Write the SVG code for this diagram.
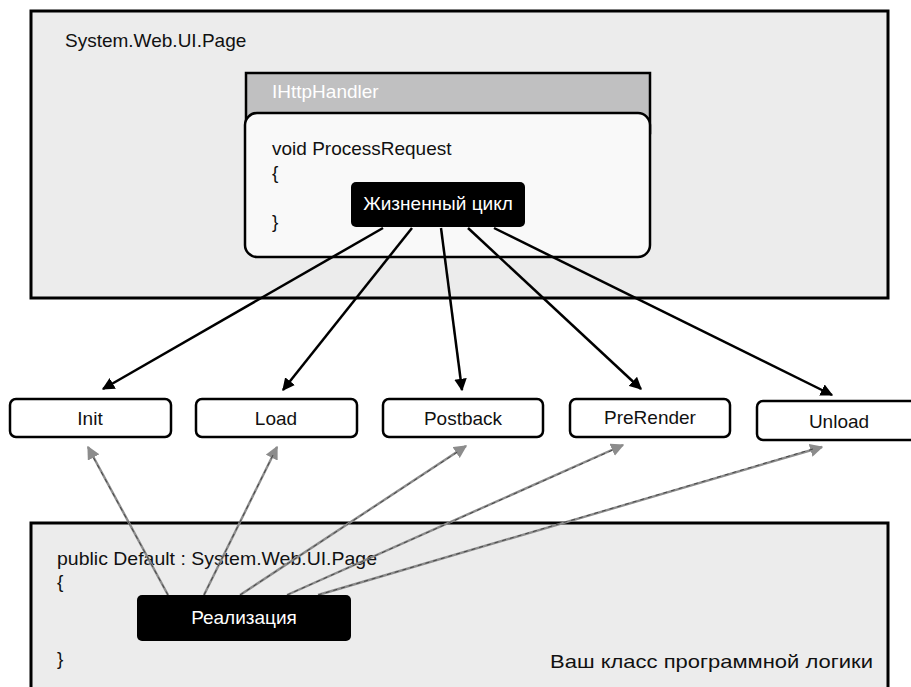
<svg xmlns="http://www.w3.org/2000/svg" width="911" height="687" viewBox="0 0 911 687">
<defs>
<style>
text{font-family:"Liberation Sans",Arial,sans-serif;font-size:19px;fill:#111}
.w{fill:#fff}
.c{text-anchor:middle}
.panel{fill:#ececec;stroke:#000;stroke-width:3}
.node{fill:#fff;stroke:#000;stroke-width:2.5}
.blk{fill:#000}
.ar{stroke:#000;stroke-width:2.5;fill:none}
.gr{stroke:#8c8c8c;stroke-width:2.4;fill:none}
.grd{stroke:#333;stroke-width:0.8;stroke-dasharray:4 4;fill:none}
</style>
<marker id="ah" viewBox="0 0 10 10" refX="9" refY="5" markerWidth="5" markerHeight="5" orient="auto" markerUnits="strokeWidth"><path d="M0,0L10,5L0,10z" fill="#000"/></marker>
<marker id="gh" viewBox="0 0 10 10" refX="9" refY="5" markerWidth="5.5" markerHeight="5.5" orient="auto" markerUnits="strokeWidth"><path d="M0,0L10,5L0,10z" fill="#8c8c8c"/></marker>
</defs>
<rect width="911" height="687" fill="#fff"/>
<g id="page">
<rect class="panel" x="31" y="11" width="857" height="287"/>
<text x="65" y="47">System.Web.UI.Page</text>
</g>
<g id="handler">
<rect x="246" y="73" width="404" height="60" fill="#c0c0c1" stroke="#000" stroke-width="2.5"/>
<text class="w" x="272" y="98">IHttpHandler</text>
<rect x="245" y="113" width="405" height="144" rx="12" fill="#f9f9f9" stroke="#000" stroke-width="2.5"/>
<text x="272" y="155">void ProcessRequest</text>
<text x="272" y="179">{</text>
<text x="272" y="228">}</text>
</g>
<g id="lifecycle">
<rect class="blk" x="351" y="182" width="174" height="45" rx="5"/>
<text class="w c" x="438" y="210">Жизненный цикл</text>
</g>
<g id="init"><rect class="node" x="10" y="399" width="161" height="38" rx="6"/><text class="c" x="90" y="425">Init</text></g>
<g id="load"><rect class="node" x="196" y="399" width="161" height="38" rx="6"/><text class="c" x="276" y="425">Load</text></g>
<g id="postback"><rect class="node" x="383" y="399" width="160" height="38" rx="6"/><text class="c" x="463" y="425">Postback</text></g>
<g id="prerender"><rect class="node" x="570" y="399" width="160" height="38" rx="6"/><text class="c" x="650" y="424">PreRender</text></g>
<g id="unload"><rect class="node" x="757" y="401" width="160" height="39" rx="6"/><text class="c" x="839" y="428">Unload</text></g>
<g id="yourclass">
<rect class="panel" x="31" y="523" width="857" height="170"/>
<text x="57" y="565" textLength="320" lengthAdjust="spacingAndGlyphs">public Default : System.Web.UI.Page</text>
<text x="57" y="588">{</text>
<text x="57" y="665">}</text>
<text x="550" y="668" textLength="323" lengthAdjust="spacingAndGlyphs">Ваш класс программной логики</text>
</g>
<g id="connectors">
<path class="ar" marker-end="url(#ah)" d="M383,228L103,389"/>
<path class="ar" marker-end="url(#ah)" d="M412,228L283,390"/>
<path class="ar" marker-end="url(#ah)" d="M441,228L462,390"/>
<path class="ar" marker-end="url(#ah)" d="M468,228L641,389"/>
<path class="ar" marker-end="url(#ah)" d="M494,228L832,395"/>
<path class="gr" marker-end="url(#gh)" d="M168,595L88,447"/>
<path class="gr" marker-end="url(#gh)" d="M204,595L277,447"/>
<path class="gr" marker-end="url(#gh)" d="M240,595L466,446"/>
<path class="gr" marker-end="url(#gh)" d="M287,595L623,445"/>
<path class="gr" marker-end="url(#gh)" d="M318,595L822,447"/>
<path class="grd" d="M168,595L92,455M204,595L273,455M240,595L459,451M287,595L615,449M318,595L813,449"/>
</g>
<g id="impl">
<rect class="blk" x="137" y="595" width="214" height="46" rx="5"/>
<text class="w c" x="244" y="624">Реализация</text>
</g>
</svg>
